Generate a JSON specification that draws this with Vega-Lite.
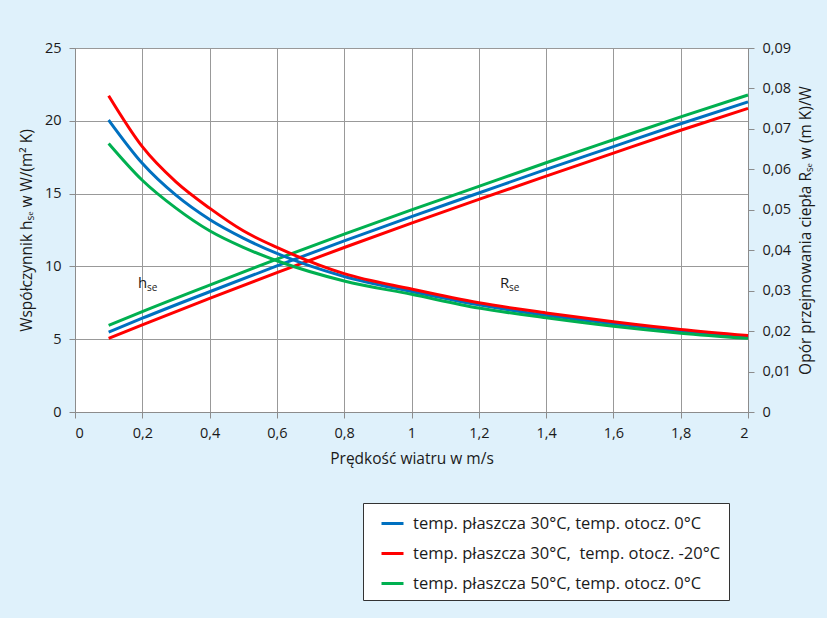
{
  "$schema": "https://vega.github.io/schema/vega-lite/v6.json",
  "width": 673,
  "height": 364,
  "autosize": {"type": "none"},
  "padding": {"left": 75, "top": 48, "right": 79, "bottom": 206},
  "background": "#dff1fb",
  "config": {
    "font": "Open Sans",
    "view": {"fill": "white", "stroke": "#999999"},
    "axis": {
      "labelFont": "Open Sans", "titleFont": "Open Sans",
      "labelFontSize": 14.5, "titleFontSize": 15.5, "titleFontWeight": "normal",
      "labelColor": "#1a1a1a", "titleColor": "#1a1a1a",
      "gridColor": "#999999", "gridOpacity": 1, "domainColor": "#8c8c8c", "tickColor": "#8c8c8c", "tickSize": 6
    }
  },
  "datasets": {
    "h": [
      {"x": 0.1, "s": "A", "v": 5.48}, {"x": 0.2, "s": "A", "v": 6.44}, {"x": 0.4, "s": "A", "v": 8.26}, {"x": 0.6, "s": "A", "v": 10.03}, {"x": 0.8, "s": "A", "v": 11.75}, {"x": 1.0, "s": "A", "v": 13.42}, {"x": 1.2, "s": "A", "v": 15.04}, {"x": 1.4, "s": "A", "v": 16.66}, {"x": 1.6, "s": "A", "v": 18.23}, {"x": 1.8, "s": "A", "v": 19.8}, {"x": 2.0, "s": "A", "v": 21.3},
      {"x": 0.1, "s": "B", "v": 5.05}, {"x": 0.2, "s": "B", "v": 5.99}, {"x": 0.4, "s": "B", "v": 7.8}, {"x": 0.6, "s": "B", "v": 9.57}, {"x": 0.8, "s": "B", "v": 11.3}, {"x": 1.0, "s": "B", "v": 12.97}, {"x": 1.2, "s": "B", "v": 14.6}, {"x": 1.4, "s": "B", "v": 16.2}, {"x": 1.6, "s": "B", "v": 17.78}, {"x": 1.8, "s": "B", "v": 19.35}, {"x": 2.0, "s": "B", "v": 20.85},
      {"x": 0.1, "s": "C", "v": 5.95}, {"x": 0.2, "s": "C", "v": 6.9}, {"x": 0.4, "s": "C", "v": 8.72}, {"x": 0.6, "s": "C", "v": 10.5}, {"x": 0.8, "s": "C", "v": 12.22}, {"x": 1.0, "s": "C", "v": 13.88}, {"x": 1.2, "s": "C", "v": 15.5}, {"x": 1.4, "s": "C", "v": 17.12}, {"x": 1.6, "s": "C", "v": 18.7}, {"x": 1.8, "s": "C", "v": 20.27}, {"x": 2.0, "s": "C", "v": 21.77}
    ],
    "r": [
      {"x": 0.1, "s": "A", "v": 0.0722}, {"x": 0.2, "s": "A", "v": 0.0615}, {"x": 0.3, "s": "A", "v": 0.0536}, {"x": 0.4, "s": "A", "v": 0.0476}, {"x": 0.5, "s": "A", "v": 0.043}, {"x": 0.6, "s": "A", "v": 0.0392}, {"x": 0.8, "s": "A", "v": 0.0335}, {"x": 1.0, "s": "A", "v": 0.0298}, {"x": 1.2, "s": "A", "v": 0.0265}, {"x": 1.4, "s": "A", "v": 0.0239}, {"x": 1.6, "s": "A", "v": 0.0218}, {"x": 1.8, "s": "A", "v": 0.02}, {"x": 2.0, "s": "A", "v": 0.0185},
      {"x": 0.1, "s": "B", "v": 0.0782}, {"x": 0.2, "s": "B", "v": 0.0656}, {"x": 0.3, "s": "B", "v": 0.0569}, {"x": 0.4, "s": "B", "v": 0.0504}, {"x": 0.5, "s": "B", "v": 0.0448}, {"x": 0.6, "s": "B", "v": 0.0407}, {"x": 0.8, "s": "B", "v": 0.0342}, {"x": 1.0, "s": "B", "v": 0.0304}, {"x": 1.2, "s": "B", "v": 0.027}, {"x": 1.4, "s": "B", "v": 0.0245}, {"x": 1.6, "s": "B", "v": 0.0223}, {"x": 1.8, "s": "B", "v": 0.0204}, {"x": 2.0, "s": "B", "v": 0.0189},
      {"x": 0.1, "s": "C", "v": 0.0664}, {"x": 0.2, "s": "C", "v": 0.0573}, {"x": 0.3, "s": "C", "v": 0.0504}, {"x": 0.4, "s": "C", "v": 0.0448}, {"x": 0.5, "s": "C", "v": 0.0407}, {"x": 0.6, "s": "C", "v": 0.0374}, {"x": 0.8, "s": "C", "v": 0.0324}, {"x": 1.0, "s": "C", "v": 0.0291}, {"x": 1.2, "s": "C", "v": 0.0257}, {"x": 1.4, "s": "C", "v": 0.0233}, {"x": 1.6, "s": "C", "v": 0.0212}, {"x": 1.8, "s": "C", "v": 0.0195}, {"x": 2.0, "s": "C", "v": 0.0182}
    ],
    "labels": [
      {"x": 0.187, "v": 8.86, "t": "h"},
      {"x": 1.263, "v": 8.86, "t": "R"}
    ]
  },
  "layer": [
    {
      "layer": [
        {
          "data": {"name": "h"},
          "mark": {"type": "line", "interpolate": "monotone", "strokeWidth": 3},
          "encoding": {
            "x": {"field": "x", "type": "quantitative", "scale": {"domain": [0, 2], "nice": false},
              "axis": {"values": [0, 0.2, 0.4, 0.6, 0.8, 1, 1.2, 1.4, 1.6, 1.8, 2], "title": "Prędkość wiatru w m/s", "labelExpr": "replace(format(datum.value, '.1~f'), '.', ',')", "grid": true, "labelPadding": 8, "titlePadding": 12}},
            "y": {"field": "v", "type": "quantitative", "scale": {"domain": [0, 25], "nice": false},
              "axis": {"orient": "left", "values": [0, 5, 10, 15, 20, 25], "title": "Współczynnik hₛₑ w W/(m² K)", "grid": true, "labelPadding": 8, "titlePadding": 10}},
            "color": {"field": "s", "type": "nominal",
              "scale": {"domain": ["A", "B", "C"], "range": ["#0070c0", "#ff0000", "#00b050"]},
              "legend": {
                "orient": "none", "legendX": 288, "legendY": 455, "title": null, "direction": "vertical",
                "symbolType": "stroke", "symbolStrokeWidth": 3, "symbolSize": 484, "symbolOffset": 9,
                "labelFontSize": 16.5, "labelFont": "Open Sans", "labelColor": "#1a1a1a", "labelLimit": 600, "labelOffset": 8,
                "padding": 8, "rowPadding": 9, "strokeColor": "#333333", "fillColor": "white",
                "labelExpr": "datum.value == 'A' ? 'temp. płaszcza 30°C, temp. otocz. 0°C' : datum.value == 'B' ? 'temp. płaszcza 30°C,\u00a0 temp. otocz. -20°C' : 'temp. płaszcza 50°C, temp. otocz. 0°C'"
              }}
          }
        },
        {
          "data": {"name": "labels"},
          "mark": {"type": "text", "align": "left", "baseline": "middle", "fontSize": 15, "font": "Open Sans", "color": "#1a1a1a"},
          "encoding": {
            "x": {"field": "x", "type": "quantitative", "scale": {"domain": [0, 2], "nice": false}},
            "y": {"field": "v", "type": "quantitative", "scale": {"domain": [0, 25], "nice": false}},
            "text": {"field": "t"}
          }
        },
        {
          "data": {"name": "labels"},
          "mark": {"type": "text", "align": "left", "baseline": "middle", "fontSize": 10, "font": "Open Sans", "color": "#1a1a1a", "dx": 9, "dy": 5},
          "encoding": {
            "x": {"field": "x", "type": "quantitative", "scale": {"domain": [0, 2], "nice": false}},
            "y": {"field": "v", "type": "quantitative", "scale": {"domain": [0, 25], "nice": false}},
            "text": {"value": "se"}
          }
        }
      ]
    },
    {
      "data": {"name": "r"},
      "mark": {"type": "line", "interpolate": "monotone", "strokeWidth": 3},
      "encoding": {
        "x": {"field": "x", "type": "quantitative", "scale": {"domain": [0, 2], "nice": false},
          "axis": {"values": [0, 0.2, 0.4, 0.6, 0.8, 1, 1.2, 1.4, 1.6, 1.8, 2], "title": "Prędkość wiatru w m/s", "labelExpr": "replace(format(datum.value, '.1~f'), '.', ',')", "grid": true, "labelPadding": 8, "titlePadding": 12}},
        "y": {"field": "v", "type": "quantitative", "scale": {"domain": [0, 0.09], "nice": false},
          "axis": {"orient": "right", "values": [0, 0.01, 0.02, 0.03, 0.04, 0.05, 0.06, 0.07, 0.08, 0.09], "title": "Opór przejmowania ciepła Rₛₑ  w (m K)/W", "titleAngle": 270, "titleBaseline": "top", "grid": false, "labelPadding": 8, "titlePadding": 8,
            "labelExpr": "datum.value == 0 ? '0' : replace(format(datum.value, '.2f'), '.', ',')"}},
        "color": {"field": "s", "type": "nominal", "scale": {"domain": ["A", "B", "C"], "range": ["#0070c0", "#ff0000", "#00b050"]}}
      }
    }
  ],
  "resolve": {"scale": {"y": "independent"}}
}
